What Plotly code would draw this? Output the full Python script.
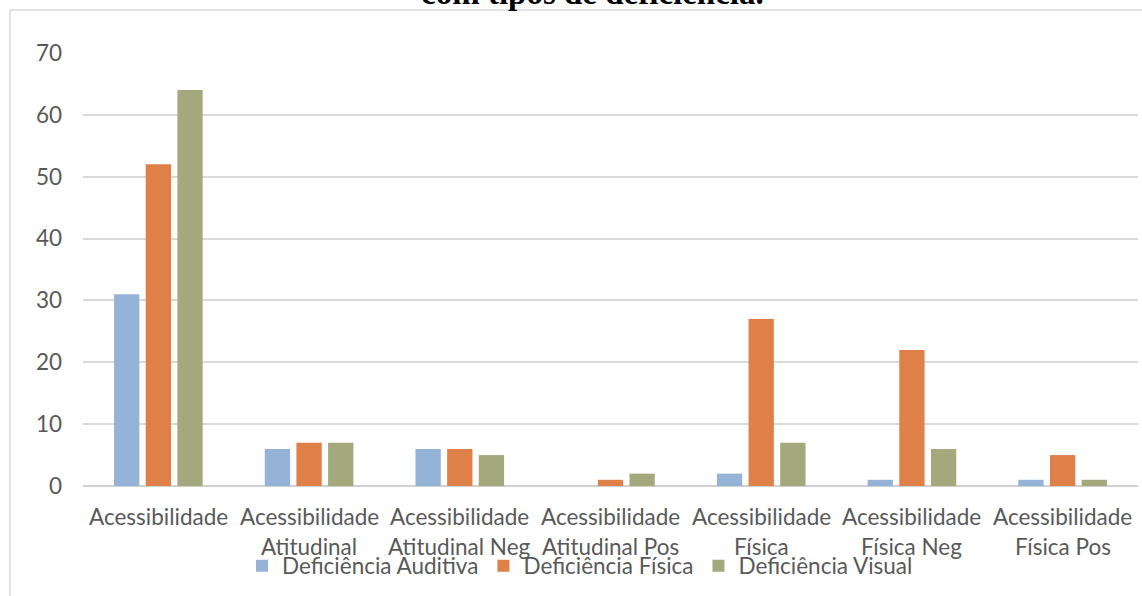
import plotly.graph_objects as go

# Categories (first line / second line of each axis label)
categorias_l1 = ["Acessibilidade"] * 7
categorias_l2 = ["", "Atitudinal", "Atitudinal Neg", "Atitudinal Pos", "Física", "Física Neg", "Física Pos"]
categorias = [(a + " " + b).strip() for a, b in zip(categorias_l1, categorias_l2)]

# Series values
auditiva = [31, 6, 6, 0, 2, 1, 1]
fisica = [52, 7, 6, 1, 27, 22, 5]
visual = [64, 7, 5, 2, 7, 6, 1]

series = [
    ("Deficiência Auditiva", auditiva, "#95B3D7"),
    ("Deficiência Física", fisica, "#DF8048"),
    ("Deficiência Visual", visual, "#A3A97D"),
]

y_ticks = [0, 10, 20, 30, 40, 50, 60, 70]

W, H = 1142, 596
L, R, T, B = 83, 4, 53, 110
pw, ph = W - L - R, H - T - B

def px_x(x):
    return (x - L) / pw

def px_y(y):
    return (H - B - y) / ph

FONT = "Lato"
GREY = "#595959"
FS = 22.5

fig = go.Figure()
for name, vals, color in series:
    fig.add_trace(go.Bar(
        x=categorias, y=vals, name=name,
        marker=dict(color=color, line=dict(width=0)),
    ))

# Two-line category labels
annotations = []
for cat, l1, l2 in zip(categorias, categorias_l1, categorias_l2):
    annotations.append(dict(x=cat, xref="x", y=px_y(516), yref="paper",
                            text=l1, showarrow=False, yanchor="middle",
                            font=dict(family=FONT, size=FS, color=GREY)))
    if l2:
        annotations.append(dict(x=cat, xref="x", y=px_y(546), yref="paper",
                                text=l2, showarrow=False, yanchor="middle",
                                font=dict(family=FONT, size=FS, color=GREY)))

# Title line
annotations.append(dict(x=px_x(592), xref="paper", y=px_y(-7), yref="paper",
                        text="<b>com tipos de deficiência.</b>", showarrow=False,
                        yanchor="middle", xanchor="center",
                        font=dict(family="Liberation Serif", size=33, color="#000000")))

border = "#D9D9D9"
shapes = [
    dict(type="line", xref="paper", yref="paper",
         x0=px_x(10), x1=px_x(W), y0=px_y(10), y1=px_y(10),
         line=dict(color=border, width=1.5)),
    dict(type="line", xref="paper", yref="paper",
         x0=px_x(10), x1=px_x(10), y0=px_y(10), y1=px_y(H),
         line=dict(color=border, width=1.5)),
]

fig.update_layout(
    width=W, height=H,
    margin=dict(l=L, r=R, t=T, b=B),
    paper_bgcolor="white", plot_bgcolor="white",
    barmode="group", bargap=0.37, bargroupgap=0.2,
    font=dict(family=FONT, size=FS, color=GREY),
    showlegend=True,
    legend=dict(orientation="h", x=px_x(580), xanchor="center",
                y=px_y(566), yanchor="middle",
                font=dict(family=FONT, size=FS, color=GREY),
                bgcolor="rgba(0,0,0,0)", itemclick=False),
    annotations=annotations,
    shapes=shapes,
)
fig.update_xaxes(showticklabels=False, showgrid=False, showline=False, ticks="",
                 zeroline=False)
fig.update_yaxes(range=[0, 70], tickvals=y_ticks, showgrid=True, gridcolor="#D9D9D9",
                 gridwidth=1.5, zeroline=True, zerolinecolor="#D0D0D0", zerolinewidth=2,
                 showline=False, ticks="", ticklabelstandoff=20,
                 tickfont=dict(family=FONT, size=FS, color=GREY))

fig.write_html("out.html")
